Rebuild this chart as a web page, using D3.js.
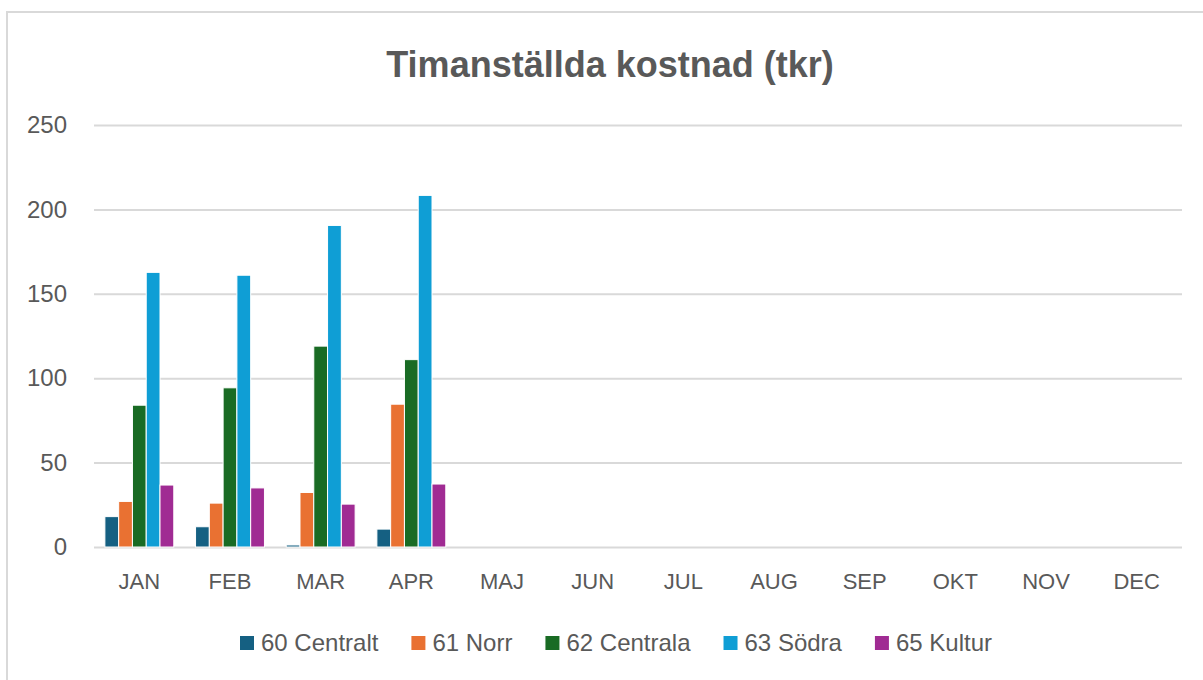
<!DOCTYPE html>
<html>
<head>
<meta charset="utf-8">
<script src="https://cdn.jsdelivr.net/npm/d3@7"></script>
<style>
    body { margin: 0; background: #fff; }
    text { font-family: "Liberation Sans", Arial, sans-serif; fill: #595959; }
</style>
</head>
<body>
<div id="chart"></div>
<script>
// chart data
var months = ["JAN", "FEB", "MAR", "APR", "MAJ", "JUN", "JUL", "AUG", "SEP", "OKT", "NOV", "DEC"];
var seriesNames = ["60 Centralt", "61 Norr", "62 Centrala", "63 Södra", "65 Kultur"];
var seriesColors = ["#156082", "#e97132", "#196b24", "#0f9ed5", "#a02b93"];

var centralt = [18, 12, 1.2, 10.6, null, null, null, null, null, null, null, null];
var norr     = [27, 26, 32.3, 84.6, null, null, null, null, null, null, null, null];
var centrala = [84, 94.3, 119, 111, null, null, null, null, null, null, null, null];
var sodra    = [162.7, 161, 190.5, 208.3, null, null, null, null, null, null, null, null];
var kultur   = [36.7, 35, 25.4, 37.3, null, null, null, null, null, null, null, null];

var yTicks = [0, 50, 100, 150, 200, 250];
var title = "Timanställda kostnad (tkr)";

var allSeries = [centralt, norr, centrala, sodra, kultur];

var width = 1203, height = 680;
// plot area (window.top is reserved, so prefixed names)
var plotLeft = 94, plotRight = 1182, plotTop = 125, plotBottom = 547;

var svg = d3.select("#chart").append("svg")
    .attr("width", width)
    .attr("height", height);

// outer chart border
svg.append("rect")
    .attr("x", 7).attr("y", 12)
    .attr("width", 1400).attr("height", 900)
    .attr("fill", "none")
    .attr("stroke", "#d9d9d9")
    .attr("stroke-width", 2);

/*** SCALES */
var x0 = d3.scaleBand()
    .domain(months)
    .range([plotLeft, plotRight])
    .paddingInner(0.24)
    .paddingOuter(0.12);

var x1 = d3.scaleBand()
    .domain(seriesNames)
    .range([0, x0.bandwidth()]);

var y = d3.scaleLinear()
    .domain([0, 250])
    .range([plotBottom, plotTop]);

// gridlines + y labels
var yAxis = svg.append("g")
    .attr("transform", "translate(" + plotLeft + ",0)")
    .call(d3.axisLeft(y).tickValues(yTicks).tickSize(-(plotRight - plotLeft)).tickPadding(27));

yAxis.select(".domain").remove();
yAxis.selectAll(".tick line")
    .attr("stroke", "#d9d9d9")
    .attr("stroke-width", 2);
yAxis.selectAll(".tick text")
    .attr("font-size", 24)
    .attr("font-family", null)
    .attr("fill", "#595959");

// x labels
var xAxis = svg.append("g")
    .attr("transform", "translate(0," + plotBottom + ")")
    .call(d3.axisBottom(x0).tickSize(0).tickPadding(26));

xAxis.select(".domain").remove();
xAxis.selectAll(".tick text")
    .attr("font-size", 22)
    .attr("font-family", null)
    .attr("fill", "#595959");

// bars
var rows = [];
months.forEach(function(m, i) {
    seriesNames.forEach(function(s, j) {
        var v = allSeries[j][i];
        if (v != null) rows.push({month: m, name: s, value: v, color: seriesColors[j]});
    });
});

svg.append("g").selectAll("rect")
    .data(rows)
    .enter()
    .append("rect")
    .attr("x", function(d) { return x0(d.month) + x1(d.name); })
    .attr("y", function(d) { return y(d.value); })
    .attr("width", x1.bandwidth())
    .attr("height", function(d) { return y(0) - y(d.value); })
    .attr("fill", function(d) { return d.color; })
    .attr("stroke", "#fff")
    .attr("stroke-width", 1);

// title
svg.append("text")
    .attr("x", 610)
    .attr("y", 77)
    .attr("text-anchor", "middle")
    .attr("font-size", 36)
    .attr("font-weight", "bold")
    .text(title);

// legend
var legend = svg.append("g").attr("transform", "translate(0,651)");
var lx = 240;
seriesNames.forEach(function(s, j) {
    legend.append("rect")
        .attr("x", lx).attr("y", -15)
        .attr("width", 14).attr("height", 14)
        .attr("fill", seriesColors[j]);
    var t = legend.append("text")
        .attr("x", lx + 21)
        .attr("y", 0)
        .attr("font-size", 24)
        .text(s);
    lx += 21 + t.node().getComputedTextLength() + 33;
});
</script>
</body>
</html>
